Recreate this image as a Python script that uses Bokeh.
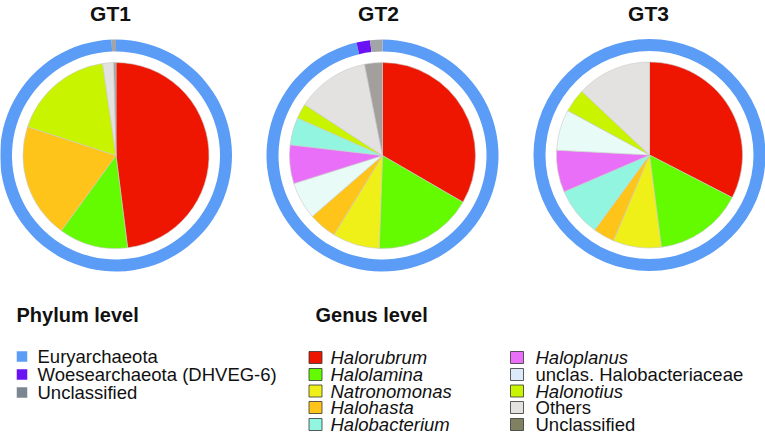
import numpy as np
from bokeh.plotting import figure
from bokeh.models import Range1d
from bokeh.core.properties import value
from bokeh.embed import file_html
from bokeh.resources import INLINE

# ---------------- data ----------------
samples = ["GT1", "GT2", "GT3"]

phylum_labels = ["Euryarchaeota", "Woesearchaeota (DHVEG-6)", "Unclassified"]
gt1_phylum = [99.4, 0.0, 0.6]
gt2_phylum = [96.4, 1.9, 1.7]
gt3_phylum = [100.0, 0.0, 0.0]

genus_labels = ["Halorubrum", "Halolamina", "Natronomonas", "Halohasta", "Halobacterium",
                "Haloplanus", "unclas. Halobacteriaceae", "Halonotius", "Others", "Unclassified"]
genus_italic = [True, True, True, True, True, True, False, True, False, False]

gt1_genus = ["Halorubrum", "Halolamina", "Halohasta", "Halonotius", "Others", "Unclassified"]
gt1_pct = [48.0, 12.0, 20.0, 17.7, 1.9, 0.4]

gt2_genus = ["Halorubrum", "Halolamina", "Natronomonas", "Halohasta", "unclas. Halobacteriaceae",
             "Haloplanus", "Halobacterium", "Halonotius", "Others", "Unclassified"]
gt2_pct = [33.4, 17.2, 8.2, 4.9, 6.5, 6.7, 4.8, 2.6, 12.7, 3.1]

gt3_genus = ["Halorubrum", "Halolamina", "Natronomonas", "Halohasta", "Halobacterium",
             "Haloplanus", "unclas. Halobacteriaceae", "Halonotius", "Others"]
gt3_pct = [32.6, 15.4, 8.4, 3.7, 8.5, 7.3, 7.1, 4.1, 13.0]

# ---------------- styles ----------------
phylum_colors = {"Euryarchaeota": "#5b9cf6", "Woesearchaeota (DHVEG-6)": "#6a12f3",
                 "Unclassified": "#a2a5a8"}
phylum_swatch = {"Euryarchaeota": "#5b9cf6", "Woesearchaeota (DHVEG-6)": "#6a12f3",
                 "Unclassified": "#7b8690"}
genus_colors = {"Halorubrum": "#ee1600", "Halolamina": "#64fa00", "Natronomonas": "#eef018",
                "Halohasta": "#fec41a", "Halobacterium": "#92f5e0", "Haloplanus": "#e96ef8",
                "unclas. Halobacteriaceae": "#e8fbf6", "Halonotius": "#c9f400",
                "Others": "#e4e2e0", "Unclassified": "#a29f9d"}
genus_swatch = dict(genus_colors)
genus_swatch["unclas. Halobacteriaceae"] = "#dcebfa"
genus_swatch["Unclassified"] = "#7f8162"

FONT = value("Liberation Sans")

W, H = 765, 442
p = figure(width=W, height=H, x_range=Range1d(0, W), y_range=Range1d(0, H),
           output_backend="svg", toolbar_location=None, min_border=0)
p.axis.visible = False
p.xgrid.visible = False
p.ygrid.visible = False
p.outline_line_color = None
p.background_fill_color = "white"
p.border_fill_color = "white"


def Y(y):
    return H - y


def angles(vals):
    v = np.asarray(vals, float)
    frac = v / v.sum()
    cum = np.concatenate([[0.0], np.cumsum(frac)])
    return frac, np.pi / 2 - 2 * np.pi * cum[:-1], np.pi / 2 - 2 * np.pi * cum[1:]


centers = [(115.5, 155.0), (382.0, 155.0), (649.0, 154.5)]
title_x = [110, 378, 648]
ring_in, ring_out, pie_r = 104, 116, 93

phyla = [gt1_phylum, gt2_phylum, gt3_phylum]
genera = [(gt1_genus, gt1_pct), (gt2_genus, gt2_pct), (gt3_genus, gt3_pct)]

for i, s in enumerate(samples):
    cx, cy = centers[i]
    cy = Y(cy)
    # phylum ring
    frac, st, en = angles(phyla[i])
    for lab, f, a0, a1 in zip(phylum_labels, frac, st, en):
        if f <= 0:
            continue
        if f > 0.999:
            p.annulus(x=cx, y=cy, inner_radius=ring_in, outer_radius=ring_out,
                      fill_color=phylum_colors[lab], line_color=None)
        else:
            p.annular_wedge(x=cx, y=cy, inner_radius=ring_in, outer_radius=ring_out,
                            start_angle=a0, end_angle=a1, direction="clock",
                            fill_color=phylum_colors[lab], line_color=None)
    # genus pie
    names, vals = genera[i]
    frac, st, en = angles(vals)
    p.wedge(x=[cx] * len(names), y=[cy] * len(names), radius=pie_r,
            start_angle=list(st), end_angle=list(en), direction="clock",
            fill_color=[genus_colors[n] for n in names],
            line_color="#c9c9c9", line_width=0.6)
    # title
    p.text(x=[title_x[i]], y=[Y(13)], text=[s], text_font=FONT, text_font_size="21px",
           text_font_style="bold", text_align="center", text_baseline="middle",
           text_color="#111111")

# ---------------- legends ----------------
p.text(x=[16], y=[Y(314)], text=["Phylum level"], text_font=FONT, text_font_size="20px",
       text_font_style="bold", text_align="left", text_baseline="middle", text_color="#111111")
p.text(x=[315], y=[Y(314)], text=["Genus level"], text_font=FONT, text_font_size="20px",
       text_font_style="bold", text_align="left", text_baseline="middle", text_color="#111111")

ph_rows = [356, 374, 392]
p.rect(x=[21.5] * 3, y=[Y(r) for r in ph_rows], width=10.5, height=10.5,
       fill_color=[phylum_swatch[l] for l in phylum_labels], line_color=None)
p.text(x=[37] * 3, y=[Y(r) for r in ph_rows], text=phylum_labels, text_font=FONT,
       text_font_size="18.5px", text_align="left", text_baseline="middle", text_color="#111111")

g_rows = [357, 374, 390.5, 407, 424]
for col in range(2):
    labs = genus_labels[col * 5:(col + 1) * 5]
    ital = genus_italic[col * 5:(col + 1) * 5]
    sx = [315, 516.5][col]
    tx = [330, 535][col]
    p.rect(x=[sx] * 5, y=[Y(r) for r in g_rows], width=13, height=12,
           fill_color=[genus_swatch[l] for l in labs], line_color="#333333", line_width=0.8)
    for lab, it, r in zip(labs, ital, g_rows):
        p.text(x=[tx], y=[Y(r)], text=[lab], text_font=FONT, text_font_size="18.5px",
               text_font_style="italic" if it else "normal", text_align="left",
               text_baseline="middle", text_color="#111111")

open("out.html", "w").write(file_html(p, INLINE))
